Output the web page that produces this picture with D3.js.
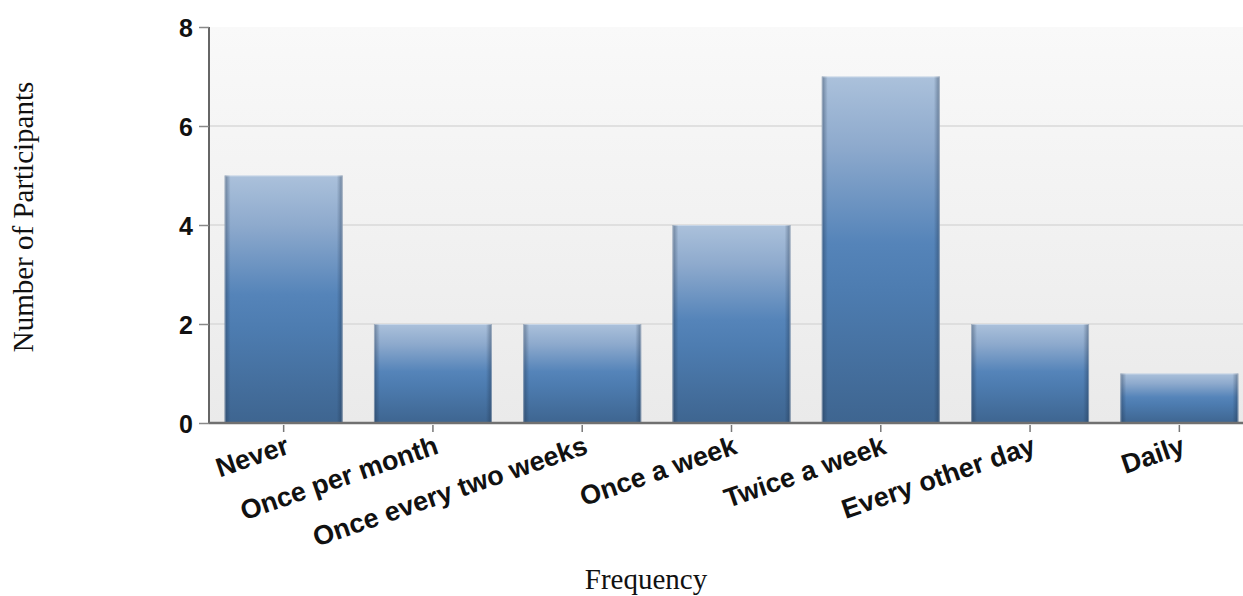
<!DOCTYPE html>
<html>
<head>
<meta charset="utf-8">
<script src="https://cdn.jsdelivr.net/npm/d3@7"></script>
<style>
  html, body { margin: 0; padding: 0; background: #ffffff; }
  svg { display: block; }
  .tick-label { font-family: "Liberation Sans", Arial, sans-serif; font-weight: bold; fill: #111; }
  .axis-title { font-family: "Liberation Serif", "Times New Roman", serif; fill: #111; }
</style>
</head>
<body>
<svg id="chart" width="1243" height="596"></svg>
<script>
// Survey responses: how often participants do the activity
const categories = ["Never", "Once per month", "Once every two weeks", "Once a week", "Twice a week", "Every other day", "Daily"];
const participants = [5, 2, 2, 4, 7, 2, 1];
const yTicks = [0, 2, 4, 6, 8];

const W = 1243, H = 596;
const plot = { left: 209, top: 27, right: 1254, bottom: 423 };

const svg = d3.select("#chart");
const defs = svg.append("defs");

// plot background: soft top-to-bottom grey fade
const bg = defs.append("linearGradient").attr("id", "bgFade")
  .attr("x1", 0).attr("y1", 0).attr("x2", 0).attr("y2", 1);
bg.append("stop").attr("offset", "0%").attr("stop-color", "#f9f9f9");
bg.append("stop").attr("offset", "100%").attr("stop-color", "#eaeaea");

// bar body: light steel blue at the top, deeper blue below
const barGrad = defs.append("linearGradient").attr("id", "barFill")
  .attr("x1", 0).attr("y1", 0).attr("x2", 0).attr("y2", 1);
barGrad.append("stop").attr("offset", "0%").attr("stop-color", "#abc1db");
barGrad.append("stop").attr("offset", "20%").attr("stop-color", "#8eaacd");
barGrad.append("stop").attr("offset", "48%").attr("stop-color", "#5584b9");
barGrad.append("stop").attr("offset", "62%").attr("stop-color", "#4d7cb0");
barGrad.append("stop").attr("offset", "100%").attr("stop-color", "#3e6590");

// darkened side edges to give the bars a rounded look
const sideGrad = defs.append("linearGradient").attr("id", "barSides")
  .attr("x1", 0).attr("y1", 0).attr("x2", 1).attr("y2", 0);
sideGrad.append("stop").attr("offset", "0%").attr("stop-color", "#1c2f48").attr("stop-opacity", 0.45);
sideGrad.append("stop").attr("offset", "5%").attr("stop-color", "#1c2f48").attr("stop-opacity", 0.0);
sideGrad.append("stop").attr("offset", "95%").attr("stop-color", "#1c2f48").attr("stop-opacity", 0.0);
sideGrad.append("stop").attr("offset", "100%").attr("stop-color", "#1c2f48").attr("stop-opacity", 0.45);

const x = d3.scaleBand()
  .domain(categories)
  .range([plot.left, plot.right])
  .paddingInner(0.21)
  .paddingOuter(0.105);

const y = d3.scaleLinear()
  .domain([0, 8])
  .range([plot.bottom, plot.top]);

// background panel
svg.append("rect")
  .attr("x", plot.left).attr("y", plot.top)
  .attr("width", W - plot.left).attr("height", plot.bottom - plot.top)
  .attr("fill", "url(#bgFade)");

// horizontal grid lines
svg.append("g")
  .selectAll("line")
  .data(yTicks.filter(d => d > 0 && d < 8))
  .join("line")
  .attr("x1", plot.left).attr("x2", W)
  .attr("y1", d => y(d)).attr("y2", d => y(d))
  .attr("stroke", "#d8d8d8").attr("stroke-width", 1.5);

// bars
const bars = svg.append("g");
bars.selectAll("rect.body")
  .data(participants)
  .join("rect")
  .attr("class", "body")
  .attr("x", (d, i) => x(categories[i]))
  .attr("y", d => y(d))
  .attr("width", x.bandwidth())
  .attr("height", d => y(0) - y(d))
  .attr("fill", "url(#barFill)");
bars.selectAll("rect.sides")
  .data(participants)
  .join("rect")
  .attr("class", "sides")
  .attr("x", (d, i) => x(categories[i]))
  .attr("y", d => y(d))
  .attr("width", x.bandwidth())
  .attr("height", d => y(0) - y(d))
  .attr("fill", "url(#barSides)");
bars.selectAll("rect.edge")
  .data(participants)
  .join("rect")
  .attr("class", "edge")
  .attr("x", (d, i) => x(categories[i]) + 0.5)
  .attr("y", d => y(d) + 0.5)
  .attr("width", x.bandwidth() - 1)
  .attr("height", d => y(0) - y(d) - 1)
  .attr("fill", "none")
  .attr("stroke", "#ffffff").attr("stroke-opacity", 0.35).attr("stroke-width", 1);

// y axis
const yAxis = svg.append("g")
  .attr("transform", `translate(${plot.left},0)`)
  .call(d3.axisLeft(y).tickValues(yTicks).tickSize(10).tickPadding(6).tickFormat(d3.format("d")));
yAxis.select(".domain").attr("stroke", "#666").attr("stroke-width", 2)
  .attr("d", `M0,${plot.top}V${plot.bottom}`);
yAxis.selectAll(".tick line").attr("stroke", "#888").attr("stroke-width", 1.5);
yAxis.selectAll(".tick text").attr("class", "tick-label").attr("font-size", 25)
  .attr("dy", "0.36em");

// x axis
const xAxis = svg.append("g")
  .attr("transform", `translate(0,${plot.bottom})`)
  .call(d3.axisBottom(x).tickSize(8).tickSizeOuter(0));
xAxis.select(".domain").attr("stroke", "#707070").attr("stroke-width", 2.5)
  .attr("d", `M${plot.left},0H${W}`);
xAxis.selectAll(".tick line").attr("stroke", "#777").attr("stroke-width", 1.5)
  .attr("y1", 2).attr("y2", 9);
xAxis.selectAll(".tick text")
  .attr("class", "tick-label")
  .attr("font-size", 27)
  .attr("text-anchor", "end")
  .attr("y", 0).attr("dy", 0)
  .attr("transform", "translate(7,30) rotate(-19)");

// axis titles
svg.append("text")
  .attr("class", "axis-title")
  .attr("font-size", 29)
  .attr("text-anchor", "middle")
  .attr("transform", `translate(33,217) rotate(-90)`)
  .text("Number of Participants");

svg.append("text")
  .attr("class", "axis-title")
  .attr("font-size", 29)
  .attr("text-anchor", "middle")
  .attr("x", 646).attr("y", 589)
  .text("Frequency");
</script>
</body>
</html>
